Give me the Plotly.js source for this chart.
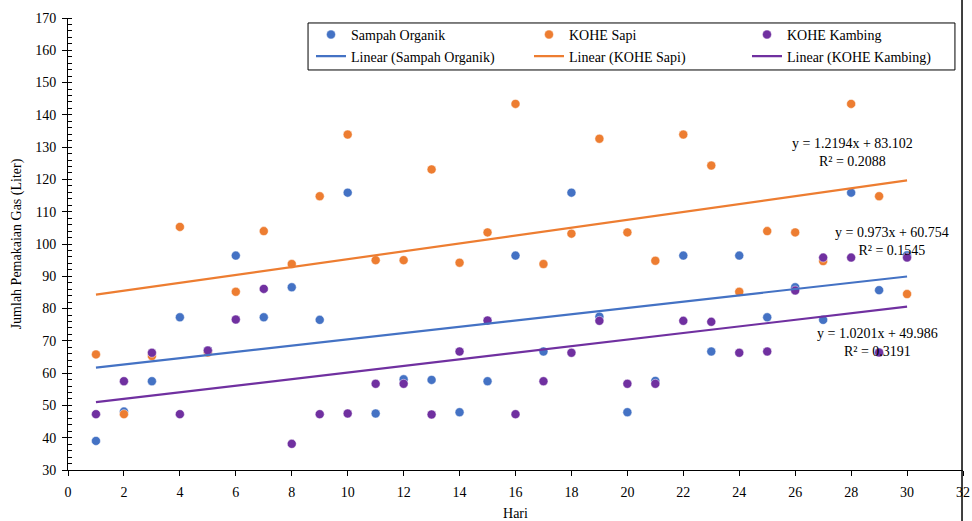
<!DOCTYPE html>
<html>
<head>
<meta charset="utf-8">
<script src="https://cdn.plot.ly/plotly-3.0.1.min.js"></script>
<style>html,body{margin:0;padding:0;background:#fff;}</style>
</head>
<body>
<div id="chart" style="width:972px;height:521px;"></div>
<script>
// ---- data ----
const days = [1,2,3,4,5,6,7,8,9,10,11,12,13,14,15,16,17,18,19,20,21,22,23,24,25,26,27,28,29,30];
const sampahOrganik = [39.0,48.1,57.5,77.3,67.0,96.4,77.3,86.6,76.5,115.9,47.5,58.1,57.9,47.9,57.5,96.4,66.7,115.9,77.5,47.9,57.6,96.4,66.7,96.4,77.3,86.6,76.5,115.9,85.7,96.5];
const koheSapi = [65.8,47.3,65.3,105.3,66.4,85.2,104.0,93.8,114.8,133.9,95.0,95.0,123.1,94.2,103.6,143.4,93.8,103.2,132.6,103.6,94.8,133.9,124.3,85.2,104.0,103.6,94.7,143.4,114.8,84.5];
const koheKambing = [47.3,57.5,66.3,47.3,67.0,76.6,86.1,38.1,47.3,47.5,56.7,56.7,47.2,66.7,76.3,47.3,57.5,66.3,76.2,56.7,56.7,76.2,75.9,66.3,66.7,85.6,95.8,95.8,66.4,95.8];
const seriesNames = ['Sampah Organik','KOHE Sapi','KOHE Kambing'];
const trendSlopes = [0.973, 1.2194, 1.0201];
const trendIntercepts = [60.754, 83.102, 49.986];
const trendR2 = [0.1545, 0.2088, 0.3191];
const xTickVals = [0,2,4,6,8,10,12,14,16,18,20,22,24,26,28,30,32];
const yTickVals = [30,40,50,60,70,80,90,100,110,120,130,140,150,160,170];
// label anchor positions (data coords) for the trend equations
const eqX = [29.45, 28.05, 28.95];
const eqY = [100.9, 128.3, 69.4];

const colors = ['#4472C4','#ED7D31','#7030A0'];
const font = 'Liberation Serif, Times New Roman, serif';
const seriesData = [sampahOrganik, koheSapi, koheKambing];

const traces = [];
seriesData.forEach((vals, i) => {
  traces.push({
    type: 'scatter', mode: 'markers', x: days, y: vals, name: seriesNames[i],
    marker: {color: colors[i], size: 9, line: {width: 0.6, color: 'rgba(255,255,255,0.8)'}},
    legend: 'legend', hoverinfo: 'x+y'
  });
});
seriesData.forEach((vals, i) => {
  const x0 = days[0], x1 = days[days.length - 1];
  traces.push({
    type: 'scatter', mode: 'lines',
    x: [x0, x1],
    y: [trendSlopes[i]*x0 + trendIntercepts[i], trendSlopes[i]*x1 + trendIntercepts[i]],
    name: 'Linear (' + seriesNames[i] + ')',
    line: {color: colors[i], width: 2.2},
    legend: 'legend2', hoverinfo: 'skip'
  });
});

const annotations = trendSlopes.map((m, i) => ({
  x: eqX[i], y: eqY[i], xref: 'x', yref: 'y', showarrow: false,
  text: 'y = ' + m + 'x + ' + trendIntercepts[i] + '<br>R² = ' + trendR2[i],
  font: {family: font, size: 14, color: '#000'}, align: 'center',
  xanchor: 'center', yanchor: 'middle'
}));

const legendCommon = {
  orientation: 'h', xanchor: 'left', yanchor: 'top',
  entrywidth: 173, entrywidthmode: 'pixels',
  bgcolor: 'rgba(0,0,0,0)', borderwidth: 0,
  font: {family: font, size: 14, color: '#000'},
  itemclick: false, itemdoubleclick: false, traceorder: 'normal'
};

const layout = {
  width: 972, height: 521,
  margin: {l: 68, r: 9, t: 18, b: 51, autoexpand: false},
  paper_bgcolor: '#fff', plot_bgcolor: '#fff',
  font: {family: font, size: 14, color: '#000'},
  showlegend: true,
  legend: Object.assign({}, legendCommon, {x: 0.2715, y: 0.998}),
  legend2: Object.assign({}, legendCommon, {x: 0.2715, y: 0.950}),
  xaxis: {
    range: [0, 32], tickvals: xTickVals, ticks: 'outside', ticklen: 5, tickcolor: '#000',
    showline: true, linecolor: '#000', linewidth: 1, showgrid: false, zeroline: false,
    tickfont: {family: font, size: 14, color: '#000'}, ticklabelstandoff: 4,
    title: {text: 'Hari', font: {family: font, size: 14, color: '#000'}, standoff: 9}
  },
  yaxis: {
    range: [30, 170], tickvals: yTickVals, ticks: 'outside', ticklen: 5, tickcolor: '#000',
    showline: true, linecolor: '#000', linewidth: 1, showgrid: false, zeroline: false,
    tickfont: {family: font, size: 14, color: '#000'}, ticklabelstandoff: 3,
    minor: {dtick: 2, ticks: 'inside', ticklen: 4, tickcolor: '#000', showgrid: false},
    title: {text: 'Jumlah Pemakaian Gas (Liter)', font: {family: font, size: 14, color: '#000'}, standoff: 10}
  },
  shapes: [
    {type: 'rect', xref: 'paper', yref: 'paper', x0: 0.2682, x1: 0.991, y0: 0.885, y1: 0.989,
     line: {color: '#000', width: 1}, fillcolor: 'rgba(0,0,0,0)', layer: 'below'},
    {type: 'line', xref: 'paper', yref: 'paper', x0: 0.9989, x1: 0.9989, y0: -0.12, y1: 1.05,
     line: {color: '#000', width: 1.5}}
  ],
  annotations: annotations
};

Plotly.newPlot('chart', traces, layout, {displayModeBar: false, staticPlot: true});
</script>
</body>
</html>
